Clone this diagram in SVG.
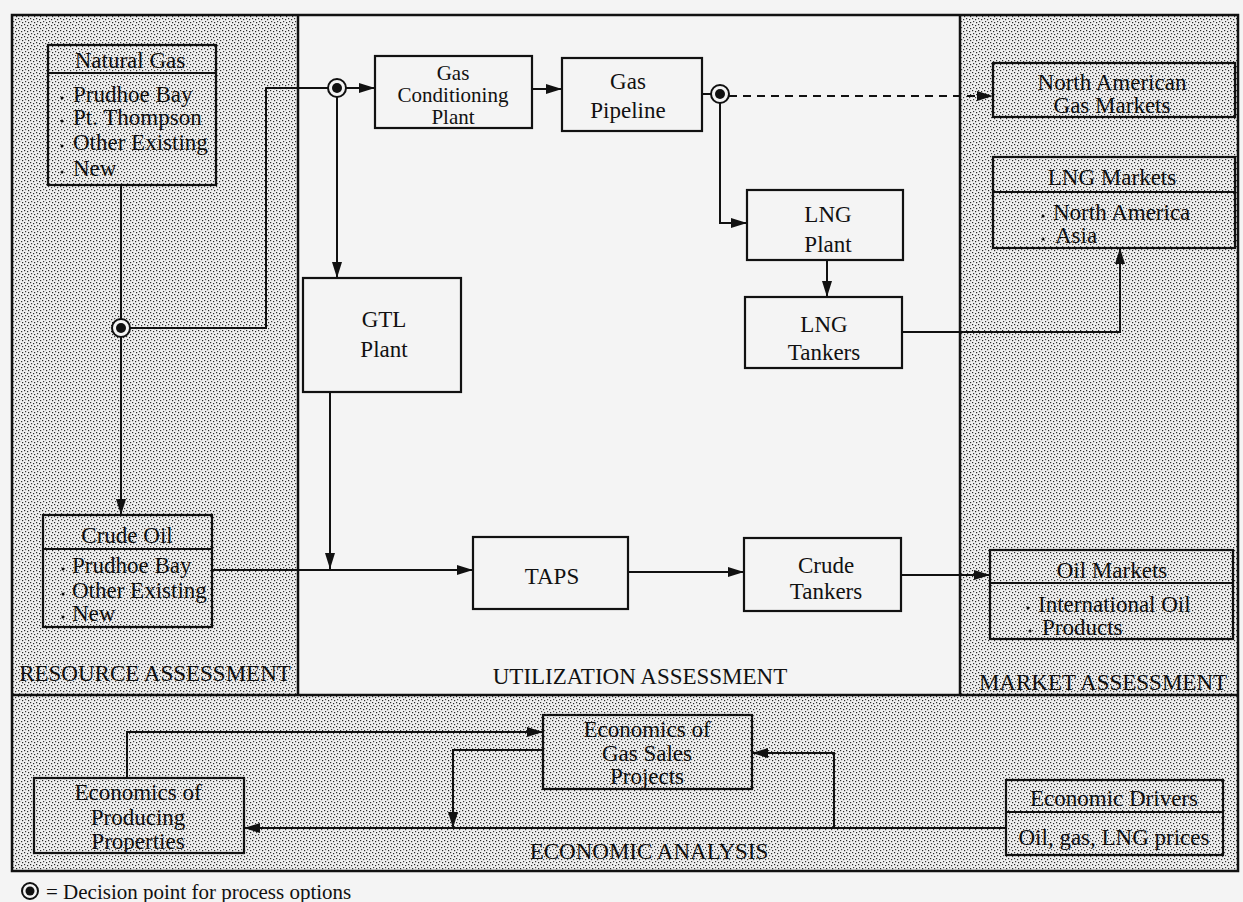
<svg xmlns="http://www.w3.org/2000/svg" width="1243" height="902" viewBox="0 0 1243 902">
  <defs>
    <pattern id="stip" width="6" height="6" patternUnits="userSpaceOnUse">
      <rect width="6" height="6" fill="#efefef"/>
      <rect x="0" y="0" width="1.2" height="1.2" fill="#2a2a2a"/>
      <rect x="3" y="1" width="1.2" height="1.2" fill="#2a2a2a"/>
      <rect x="1" y="3" width="1.2" height="1.2" fill="#3a3a3a"/>
      <rect x="4" y="4" width="1.2" height="1.2" fill="#2a2a2a"/>
    </pattern>
    <marker id="arr" markerWidth="16" markerHeight="10" refX="16" refY="5" orient="auto" markerUnits="userSpaceOnUse">
      <path d="M0,0 L16,5 L0,10 z" fill="#111"/>
    </marker>
  </defs>
  <style>
    .t { font-family: "Liberation Serif", "Times New Roman", serif; font-size: 23px; fill: #111; }
    .s { font-size: 21px; }
    .m { text-anchor: middle; }
    .box { fill: none; stroke: #111; stroke-width: 2.2; }
    .frame { fill: none; stroke: #111; stroke-width: 2.5; }
    .c { fill: none; stroke: #111; stroke-width: 2; }
    .ca { fill: none; stroke: #111; stroke-width: 2; marker-end: url(#arr); }
    .dash { stroke-dasharray: 8 6; }
    .ring { fill: #f4f4f4; stroke: #111; stroke-width: 2; }
    .dot { fill: #111; }
  </style>

  <rect width="1243" height="902" fill="#f4f4f4"/>

  <g id="panels">
    <rect x="12" y="15" width="286" height="680" fill="url(#stip)"/>
    <rect x="960" y="15" width="278" height="680" fill="url(#stip)"/>
    <rect x="12" y="695" width="1226" height="176" fill="url(#stip)"/>
    <rect x="12" y="15" width="1226" height="856" class="frame"/>
    <line x1="298" y1="15" x2="298" y2="695" class="frame"/>
    <line x1="960" y1="15" x2="960" y2="695" class="frame"/>
    <line x1="12" y1="695" x2="1238" y2="695" class="frame"/>
    <text class="t m" x="155" y="681">RESOURCE ASSESSMENT</text>
    <text class="t m" x="640" y="684">UTILIZATION ASSESSMENT</text>
    <text class="t m" x="1103" y="690">MARKET ASSESSMENT</text>
    <text class="t m" x="649" y="859">ECONOMIC ANALYSIS</text>
  </g>

  <g id="connectors">
    <path class="ca" d="M121,185 V515"/>
    <path class="c" d="M121,328 H266 V88 H337"/>
    <path class="ca" d="M337,88 H375"/>
    <path class="ca" d="M337,88 V278"/>
    <path class="ca" d="M532,89 H562"/>
    <path class="c" d="M702,94 H720"/>
    <path class="ca dash" d="M729,96 H993"/>
    <path class="ca" d="M720,94 V223 H747"/>
    <path class="ca" d="M827,260 V297"/>
    <path class="ca" d="M902,332 H1120 V248"/>
    <path class="ca" d="M330,392 V569"/>
    <path class="ca" d="M212,570 H473"/>
    <path class="ca" d="M628,572 H744"/>
    <path class="ca" d="M901,575 H990"/>
    <path class="ca" d="M127,778 V732 H543"/>
    <path class="ca" d="M543,750 H453 V828"/>
    <path class="ca" d="M1006,828 H244"/>
    <path class="ca" d="M834,828 V753 H752"/>
    <circle class="ring" cx="337" cy="88" r="9"/>
    <circle class="dot" cx="337" cy="88" r="5"/>
    <circle class="ring" cx="720" cy="94" r="9"/>
    <circle class="dot" cx="720" cy="94" r="5"/>
    <circle class="ring" cx="121" cy="328" r="9"/>
    <circle class="dot" cx="121" cy="328" r="5"/>
  </g>

  <g id="natural-gas">
    <rect class="box" x="48" y="45" width="168" height="140"/>
    <line class="box" x1="48" y1="73" x2="216" y2="73"/>
    <text class="t m" x="130" y="68">Natural Gas</text>
    <circle class="dot" cx="62" cy="98" r="1.5"/>
    <circle class="dot" cx="62" cy="121" r="1.5"/>
    <circle class="dot" cx="62" cy="146" r="1.5"/>
    <circle class="dot" cx="62" cy="172" r="1.5"/>
    <text class="t" x="73" y="102">Prudhoe Bay</text>
    <text class="t" x="73" y="125">Pt. Thompson</text>
    <text class="t" x="73" y="150">Other Existing</text>
    <text class="t" x="73" y="176">New</text>
  </g>

  <g id="crude-oil">
    <rect class="box" x="43" y="515" width="169" height="112"/>
    <line class="box" x1="43" y1="549" x2="212" y2="549"/>
    <text class="t m" x="127" y="543">Crude Oil</text>
    <circle class="dot" cx="63" cy="569" r="1.5"/>
    <circle class="dot" cx="63" cy="594" r="1.5"/>
    <circle class="dot" cx="63" cy="617" r="1.5"/>
    <text class="t" x="72" y="573">Prudhoe Bay</text>
    <text class="t" x="72" y="598">Other Existing</text>
    <text class="t" x="72" y="621">New</text>
  </g>

  <g id="gas-conditioning">
    <rect class="box" x="375" y="56" width="157" height="72"/>
    <text class="t s m" x="453" y="80">Gas</text>
    <text class="t s m" x="453" y="102">Conditioning</text>
    <text class="t s m" x="453" y="124">Plant</text>
  </g>

  <g id="gas-pipeline">
    <rect class="box" x="562" y="58" width="140" height="73"/>
    <text class="t m" x="628" y="89">Gas</text>
    <text class="t m" x="628" y="118">Pipeline</text>
  </g>

  <g id="lng-plant">
    <rect class="box" x="747" y="190" width="156" height="70"/>
    <text class="t m" x="828" y="222">LNG</text>
    <text class="t m" x="828" y="252">Plant</text>
  </g>

  <g id="lng-tankers">
    <rect class="box" x="745" y="297" width="157" height="71"/>
    <text class="t m" x="824" y="332">LNG</text>
    <text class="t m" x="824" y="360">Tankers</text>
  </g>

  <g id="gtl-plant">
    <rect class="box" x="303" y="278" width="158" height="114"/>
    <text class="t m" x="384" y="327">GTL</text>
    <text class="t m" x="384" y="357">Plant</text>
  </g>

  <g id="taps">
    <rect class="box" x="473" y="537" width="155" height="72"/>
    <text class="t m" x="552" y="584">TAPS</text>
  </g>

  <g id="crude-tankers">
    <rect class="box" x="744" y="538" width="157" height="73"/>
    <text class="t m" x="826" y="573">Crude</text>
    <text class="t m" x="826" y="599">Tankers</text>
  </g>

  <g id="na-gas-markets">
    <rect class="box" x="993" y="63" width="242" height="54"/>
    <text class="t m" x="1112" y="90">North American</text>
    <text class="t m" x="1112" y="113">Gas Markets</text>
  </g>

  <g id="lng-markets">
    <rect class="box" x="993" y="157" width="242" height="91"/>
    <line class="box" x1="993" y1="192" x2="1235" y2="192"/>
    <text class="t m" x="1112" y="185">LNG Markets</text>
    <circle class="dot" cx="1043" cy="216" r="1.5"/>
    <circle class="dot" cx="1043" cy="239" r="1.5"/>
    <text class="t" x="1053" y="220">North America</text>
    <text class="t" x="1055" y="243">Asia</text>
  </g>

  <g id="oil-markets">
    <rect class="box" x="990" y="550" width="243" height="89"/>
    <line class="box" x1="990" y1="583" x2="1233" y2="583"/>
    <text class="t m" x="1112" y="578">Oil Markets</text>
    <circle class="dot" cx="1028" cy="608" r="1.5"/>
    <circle class="dot" cx="1030" cy="631" r="1.5"/>
    <text class="t" x="1038" y="612">International Oil</text>
    <text class="t" x="1042" y="635">Products</text>
  </g>

  <g id="gas-sales-economics">
    <rect class="box" x="543" y="715" width="209" height="74"/>
    <text class="t m" x="647" y="737">Economics of</text>
    <text class="t m" x="647" y="761">Gas Sales</text>
    <text class="t m" x="647" y="784">Projects</text>
  </g>

  <g id="producing-economics">
    <rect class="box" x="34" y="778" width="210" height="75"/>
    <text class="t m" x="138" y="800">Economics of</text>
    <text class="t m" x="138" y="825">Producing</text>
    <text class="t m" x="138" y="849">Properties</text>
  </g>

  <g id="economic-drivers">
    <rect class="box" x="1006" y="780" width="217" height="75"/>
    <line class="box" x1="1006" y1="812" x2="1223" y2="812"/>
    <text class="t m" x="1114" y="806">Economic Drivers</text>
    <text class="t m" x="1114" y="845">Oil, gas, LNG prices</text>
  </g>

  <g id="legend">
    <circle class="ring" cx="30" cy="891" r="8"/>
    <circle class="dot" cx="30" cy="891" r="4.5"/>
    <text class="t" x="46" y="899" style="font-size:21px">= Decision point for process options</text>
  </g>
</svg>
